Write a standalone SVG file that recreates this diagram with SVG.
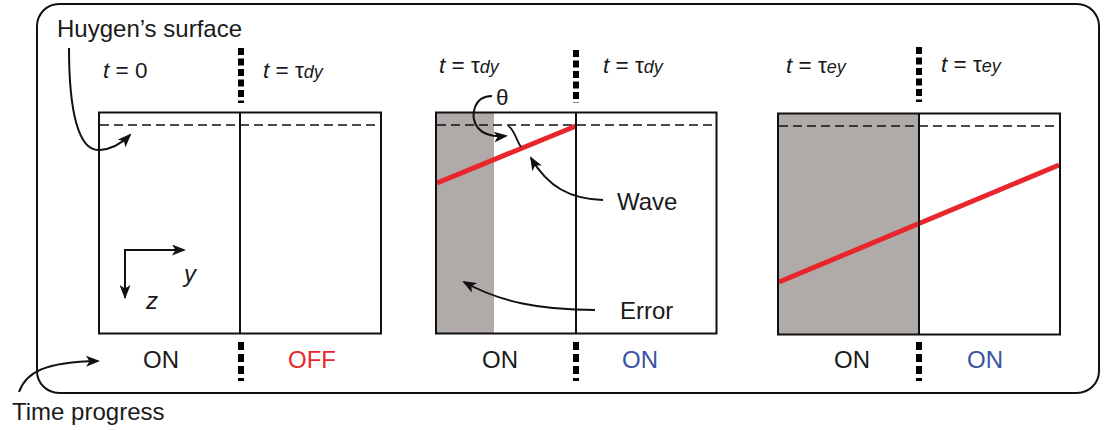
<svg xmlns="http://www.w3.org/2000/svg" width="1105" height="430" viewBox="0 0 1105 430">
<style>
text{font-family:"Liberation Sans",Arial,sans-serif;fill:#1a1a1a}
.lbl{font-size:22.5px}
.big{font-size:24px}
.it{font-style:italic}
.sub{font-style:italic;font-size:18px}
.frame{fill:none;stroke:#111;stroke-width:2}
.box{fill:none;stroke:#111;stroke-width:2}
.huy{fill:none;stroke:#111;stroke-width:1.6;stroke-dasharray:9 5}
.div{stroke:#000;stroke-width:6;stroke-dasharray:7 3.5}
.wave{stroke:#e8262b;stroke-width:5;stroke-linecap:butt}
.gray{fill:#b0aba8}
.arr{fill:none;stroke:#111;stroke-width:2;marker-end:url(#ah)}
.red{fill:#e8262b}
.blue{fill:#3853a4}
</style>
<defs>
<marker id="ah" viewBox="0 0 14 11" refX="12" refY="5.5" markerWidth="14" markerHeight="11" markerUnits="userSpaceOnUse" orient="auto">
<path d="M0,0 L14,5.5 L0,11 L3.5,5.5 z" fill="#111"/>
</marker>
</defs>
<rect class="frame" x="37" y="4" width="1062" height="389" rx="22" ry="22"/>
<g id="panel1">
<rect x="99" y="112.5" width="282" height="221" fill="#fff"/>
<line class="huy" x1="100" y1="125" x2="380" y2="125"/>
<rect class="box" x="99" y="112.5" width="282" height="221"/>
<line x1="240" y1="112.5" x2="240" y2="333.5" stroke="#111" stroke-width="2"/>
<text class="lbl" x="103" y="78"><tspan class="it">t</tspan> = 0</text>
<text class="lbl" x="263" y="78"><tspan class="it">t</tspan> = τ<tspan class="sub">dy</tspan></text>
<text class="big" x="143" y="368">ON</text>
<text class="big red" x="288" y="368">OFF</text>
</g>
<g id="panel2">
<rect x="436" y="112.5" width="280.5" height="221" fill="#fff"/>
<rect class="gray" x="436" y="112.5" width="58" height="221"/>
<line class="huy" x1="437" y1="125" x2="716" y2="125"/>
<line class="wave" x1="437" y1="183" x2="576" y2="126"/>
<rect class="box" x="436" y="112.5" width="280.5" height="221"/>
<line x1="576" y1="112.5" x2="576" y2="333.5" stroke="#111" stroke-width="2"/>
<text class="lbl" x="439" y="73"><tspan class="it">t</tspan> = τ<tspan class="sub">dy</tspan></text>
<text class="lbl" x="603" y="73"><tspan class="it">t</tspan> = τ<tspan class="sub">dy</tspan></text>
<text class="lbl" x="496" y="105">θ</text>
<path d="M508,126 C514,128 516,140 521,147" fill="none" stroke="#111" stroke-width="1.8"/>
<text class="big" x="617" y="210">Wave</text>
<text class="big" x="620" y="319">Error</text>
<text class="big" x="482" y="368">ON</text>
<text class="big blue" x="622" y="368">ON</text>
</g>
<g id="panel3">
<rect class="gray" x="778" y="113.5" width="141" height="221"/>
<rect x="919" y="113.5" width="141" height="221" fill="#fff"/>
<line class="huy" x1="779" y1="126" x2="1059" y2="126"/>
<line class="wave" x1="779" y1="282" x2="1059" y2="165"/>
<rect class="box" x="778" y="113.5" width="282" height="221"/>
<line x1="919" y1="113.5" x2="919" y2="334.5" stroke="#111" stroke-width="2"/>
<text class="lbl" x="786" y="73"><tspan class="it">t</tspan> = τ<tspan class="sub">ey</tspan></text>
<text class="lbl" x="941" y="72"><tspan class="it">t</tspan> = τ<tspan class="sub">ey</tspan></text>
<text class="big" x="834" y="368">ON</text>
<text class="big blue" x="967" y="368">ON</text>
</g>
<g id="axes">
<text class="big it" x="184" y="282">y</text>
<text class="big it" x="146" y="309">z</text>
</g>
<g id="labels">
<text class="big" x="57" y="37">Huygen’s surface</text>
<text class="big" x="12" y="420">Time progress</text>
</g>
<g id="connectors">
<line class="div" x1="241" y1="48" x2="241" y2="103"/>
<line class="div" x1="576" y1="50" x2="576" y2="103"/>
<line class="div" x1="919" y1="47" x2="919" y2="102"/>
<line class="div" x1="241" y1="342" x2="241" y2="381" style="stroke-dasharray:8 4"/>
<line class="div" x1="576" y1="342" x2="576" y2="381" style="stroke-dasharray:8 4"/>
<line class="div" x1="919" y1="342" x2="919" y2="381" style="stroke-dasharray:8 4"/>
<path class="arr" d="M125,298 L125,250 L184,250"/>
<path d="M125,250 L125,297" fill="none" stroke="#111" stroke-width="2" marker-end="url(#ah)"/>
<path class="arr" d="M69,48 C69,110 78,152 100,150 C112,149 122,143 130,135"/>
<path class="arr" d="M492,96 C474,96 469,116 478,128 C484,135 494,137 506,136"/>
<path class="arr" d="M603,200 C570,199 548,187 531,158"/>
<path class="arr" d="M595,310 C540,310 500,302 464,282"/>
<path class="arr" d="M19,392 C26,372 45,362 98,361"/>
</g>
</svg>
